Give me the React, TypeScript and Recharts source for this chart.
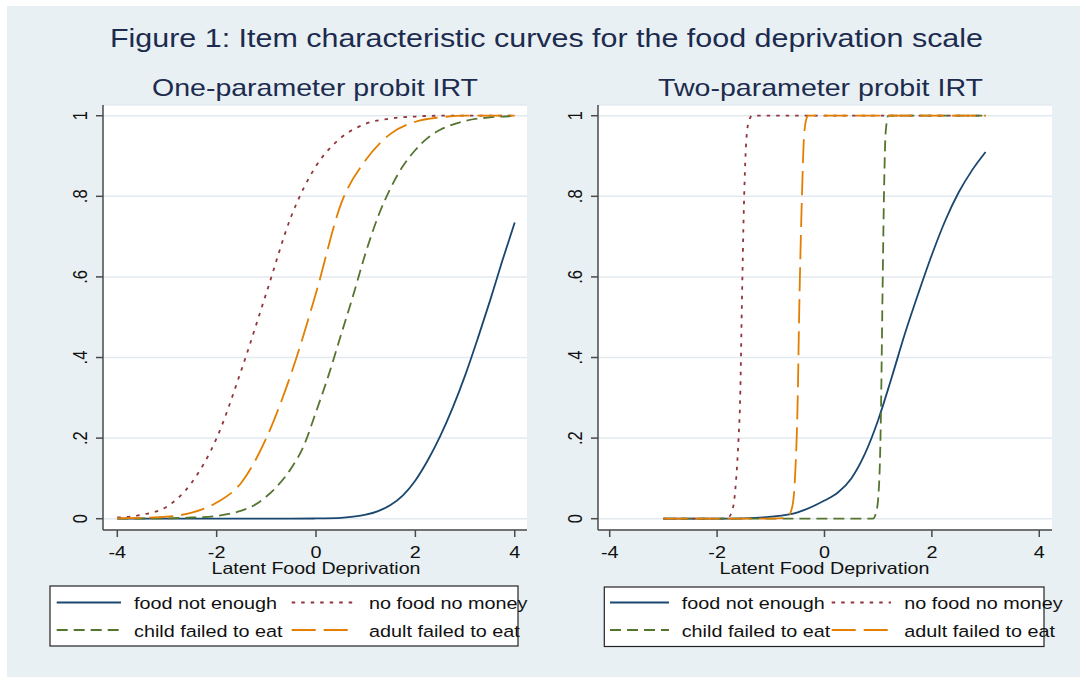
import React from "react";
import { LineChart, Line, XAxis, YAxis, CartesianGrid } from "recharts";

// ---------- text ----------
const mainTitle = "Figure 1: Item characteristic curves for the food deprivation scale";
const panelTitles = ["One-parameter probit IRT", "Two-parameter probit IRT"];
const xAxisTitle = "Latent Food Deprivation";
const seriesNames = ["food not enough", "no food no money", "child failed to eat", "adult failed to eat"];

// ---------- ticks ----------
const xTicks = [-4, -2, 0, 2, 4];
const xTickLabels = ["-4", "-2", "0", "2", "4"];
const yTicks = [0, 0.2, 0.4, 0.6, 0.8, 1];
const yTickLabels = ["0", ".2", ".4", ".6", ".8", "1"];

// ---------- one-parameter probit IRT ----------
const oneFoodX = [-4, -3, -2, -1, -0.5, 0, 0.5, 0.75, 1, 1.25, 1.5, 1.75, 2, 2.25, 2.5, 2.75, 3, 3.25, 3.5, 3.75, 4];
const oneFoodY = [0, 0, 0, 0, 0.0002, 0.0006, 0.002, 0.005, 0.01, 0.019, 0.034, 0.058, 0.095, 0.145, 0.205, 0.275, 0.355, 0.445, 0.54, 0.64, 0.735];
const oneMoneyX = [-4, -3.5, -3, -2.5, -2, -1.5, -1, -0.5, 0, 0.5, 1, 1.5, 2, 2.5, 3, 3.5, 4];
const oneMoneyY = [0.003, 0.01, 0.03, 0.09, 0.2, 0.37, 0.56, 0.75, 0.875, 0.945, 0.98, 0.993, 0.998, 1, 1, 1, 1];
const oneChildX = [-4, -3.5, -3, -2.5, -2, -1.75, -1.5, -1.25, -1, -0.75, -0.5, -0.25, 0, 0.25, 0.5, 0.75, 1, 1.25, 1.5, 1.75, 2, 2.25, 2.5, 2.75, 3, 3.5, 4];
const oneChildY = [0.0002, 0.0005, 0.001, 0.003, 0.007, 0.012, 0.02, 0.033, 0.055, 0.085, 0.125, 0.18, 0.265, 0.355, 0.455, 0.555, 0.66, 0.75, 0.82, 0.875, 0.915, 0.945, 0.965, 0.978, 0.987, 0.996, 0.999];
const oneAdultX = [-4, -3.5, -3, -2.5, -2, -1.5, -1, -0.5, 0, 0.5, 1, 1.5, 2, 2.5, 3, 3.5, 4];
const oneAdultY = [0.001, 0.002, 0.005, 0.015, 0.04, 0.09, 0.2, 0.36, 0.56, 0.78, 0.89, 0.955, 0.985, 0.996, 1, 1, 1];

// ---------- two-parameter probit IRT ----------
const twoFoodX = [-3, -2, -1.5, -1, -0.5, 0, 0.25, 0.5, 0.75, 1, 1.25, 1.5, 1.75, 2, 2.25, 2.5, 2.75, 3];
const twoFoodY = [0, 0.0002, 0.001, 0.005, 0.016, 0.045, 0.065, 0.1, 0.16, 0.245, 0.35, 0.46, 0.56, 0.655, 0.74, 0.81, 0.865, 0.91];
const twoMoneyX = [-3, -2.5, -2, -1.8, -1.7, -1.65, -1.6, -1.57, -1.54, -1.5, -1.45, -1.4, -1.35, -1, 0, 1, 2, 3];
const twoMoneyY = [0, 0, 0, 0.002, 0.03, 0.09, 0.2, 0.3, 0.52, 0.78, 0.95, 0.99, 1, 1, 1, 1, 1, 1];
const twoChildX = [-3, -2, -1, 0, 0.9, 0.95, 1.0, 1.05, 1.08, 1.11, 1.14, 1.19, 1.5, 2, 2.5, 3];
const twoChildY = [0, 0, 0, 0, 0, 0.01, 0.05, 0.25, 0.55, 0.82, 0.96, 1, 1, 1, 1, 1];
const twoAdultX = [-3, -2, -1, -0.7, -0.6, -0.55, -0.5, -0.47, -0.42, -0.38, -0.33, -0.3, 0, 1, 2, 3];
const twoAdultY = [0, 0, 0, 0.002, 0.03, 0.1, 0.29, 0.52, 0.8, 0.95, 0.995, 1, 1, 1, 1, 1];

// ---------- styles ----------
const FONT = "'Liberation Sans', Arial, Helvetica, sans-serif";
const SX = 1.2;
const TITLE_COLOR = "#1c2b4e";
const BG = "#e8f0f3";
const AXIS = "#4a4a4a";
const GRID = "#e2eaef";
const seriesStyles = [
  { color: "#1a476f", dash: undefined as string | undefined },
  { color: "#90353b", dash: "3.5 6" },
  { color: "#55752f", dash: "11 6" },
  { color: "#e37e00", dash: "24 8" },
];

const zip = (xs: number[], ys: number[]) => xs.map((x, i) => ({ x, y: ys[i] }));

const oneSeries = [
  zip(oneFoodX, oneFoodY),
  zip(oneMoneyX, oneMoneyY),
  zip(oneChildX, oneChildY),
  zip(oneAdultX, oneAdultY),
];
const twoSeries = [
  zip(twoFoodX, twoFoodY),
  zip(twoMoneyX, twoMoneyY),
  zip(twoChildX, twoChildY),
  zip(twoAdultX, twoAdultY),
];

const XTick = (props: any) => {
  const { x, y, payload } = props;
  const i = xTicks.indexOf(Number(payload.value));
  const label = i >= 0 ? xTickLabels[i] : String(payload.value);
  return (
    <text
      transform={`translate(${x},${y + 19}) scale(${SX},1)`}
      textAnchor="middle"
      fontSize={16.5}
      fontFamily={FONT}
      fill="#111"
    >
      {label}
    </text>
  );
};

const YTick = (props: any) => {
  const { x, y, payload } = props;
  const i = yTicks.findIndex((t) => Math.abs(t - Number(payload.value)) < 1e-9);
  const label = i >= 0 ? yTickLabels[i] : String(payload.value);
  return (
    <text
      transform={`translate(${x - 7.5},${y}) scale(${SX},1) rotate(-90)`}
      textAnchor="middle"
      fontSize={16.5}
      fontFamily={FONT}
      fill="#111"
    >
      {label}
    </text>
  );
};

type PanelProps = {
  left: number;
  width: number;
  marginLeft: number;
  yAxisWidth: number;
  marginRight: number;
  xDomain: [number, number];
  series: { x: number; y: number }[][];
};

function Panel({ left, width, marginLeft, yAxisWidth, marginRight, xDomain, series }: PanelProps) {
  return (
    <div style={{ position: "absolute", left, top: 0 }}>
      <LineChart
        width={width}
        height={600}
        margin={{ top: 105, right: marginRight, bottom: 40, left: marginLeft }}
      >
        <CartesianGrid vertical={false} stroke={GRID} strokeWidth={1.5} fill="#ffffff" fillOpacity={1} />
        <XAxis
          type="number"
          dataKey="x"
          domain={xDomain}
          allowDataOverflow
          ticks={xTicks}
          interval={0}
          tick={<XTick />}
          tickSize={7}
          height={30}
          axisLine={{ stroke: AXIS, strokeWidth: 1.5 }}
          tickLine={{ stroke: AXIS, strokeWidth: 1.5 }}
        />
        <YAxis
          type="number"
          domain={[-0.028, 1.0266]}
          allowDataOverflow
          ticks={yTicks}
          interval={0}
          tick={<YTick />}
          tickSize={7}
          width={yAxisWidth}
          axisLine={{ stroke: AXIS, strokeWidth: 1.5 }}
          tickLine={{ stroke: AXIS, strokeWidth: 1.5 }}
        />
        {series.map((d, i) => (
          <Line
            key={seriesNames[i]}
            data={d}
            dataKey="y"
            name={seriesNames[i]}
            type="monotone"
            stroke={seriesStyles[i].color}
            strokeDasharray={seriesStyles[i].dash}
            strokeWidth={1.8}
            dot={false}
            activeDot={false}
            isAnimationActive={false}
          />
        ))}
      </LineChart>
    </div>
  );
}

type LegendLayout = {
  box: { x: number; y: number; w: number; h: number };
  cols: { l1: number; l2: number; tx: number }[];
};

const legendLayouts: LegendLayout[] = [
  { box: { x: 50, y: 586, w: 468, h: 60 }, cols: [{ l1: 56.7, l2: 121, tx: 134 }, { l1: 291.7, l2: 354, tx: 369 }] },
  { box: { x: 604.3, y: 587, w: 439.7, h: 59.5 }, cols: [{ l1: 610, l2: 669, tx: 681.7 }, { l1: 831.7, l2: 891, tx: 904.3 }] },
];
const rowLineY = [602.5, 630];
const rowTextY = [609, 636.5];

function LegendBox({ layout }: { layout: LegendLayout }) {
  const { box, cols } = layout;
  return (
    <g>
      <rect x={box.x} y={box.y} width={box.w} height={box.h} fill="#fff" stroke="#222" strokeWidth={1.2} />
      {seriesNames.map((name, i) => {
        const row = Math.floor(i / 2);
        const col = cols[i % 2];
        return (
          <g key={name}>
            <line
              x1={col.l1}
              x2={col.l2}
              y1={rowLineY[row]}
              y2={rowLineY[row]}
              stroke={seriesStyles[i].color}
              strokeWidth={1.8}
              strokeDasharray={seriesStyles[i].dash}
            />
            <text
              transform={`translate(${col.tx},${rowTextY[row]}) scale(${SX},1)`}
              fontSize={16.5}
              fontFamily={FONT}
              fill="#111"
            >
              {name}
            </text>
          </g>
        );
      })}
    </g>
  );
}

export default function App() {
  return (
    <div style={{ position: "absolute", left: 0, top: 0, width: 1086, height: 682, background: "#fff", overflow: "hidden" }}>
      <div style={{ position: "absolute", left: 7, top: 6, width: 1073, height: 671, background: BG }} />
      <Panel left={0} width={545} marginLeft={43} yAxisWidth={60} marginRight={18} xDomain={[-4.288, 4.247]} series={oneSeries} />
      <Panel left={545} width={541} marginLeft={0} yAxisWidth={53} marginRight={34} xDomain={[-4.218, 4.237]} series={twoSeries} />
      <svg width={1086} height={682} style={{ position: "absolute", left: 0, top: 0, pointerEvents: "none" }}>
        <text x={546.5} y={47.3} textAnchor="middle" fontSize={25} fontFamily={FONT} fill={TITLE_COLOR} textLength={873} lengthAdjust="spacingAndGlyphs">
          {mainTitle}
        </text>
        <text x={315} y={96} textAnchor="middle" fontSize={24} fontFamily={FONT} fill={TITLE_COLOR} textLength={326} lengthAdjust="spacingAndGlyphs">
          {panelTitles[0]}
        </text>
        <text x={820.5} y={96} textAnchor="middle" fontSize={24} fontFamily={FONT} fill={TITLE_COLOR} textLength={325} lengthAdjust="spacingAndGlyphs">
          {panelTitles[1]}
        </text>
        <text x={316} y={573.5} textAnchor="middle" fontSize={16.5} fontFamily={FONT} fill="#111" textLength={209} lengthAdjust="spacingAndGlyphs">
          {xAxisTitle}
        </text>
        <text x={824.5} y={573.5} textAnchor="middle" fontSize={16.5} fontFamily={FONT} fill="#111" textLength={210} lengthAdjust="spacingAndGlyphs">
          {xAxisTitle}
        </text>
        {legendLayouts.map((l, i) => (
          <LegendBox key={i} layout={l} />
        ))}
      </svg>
    </div>
  );
}
